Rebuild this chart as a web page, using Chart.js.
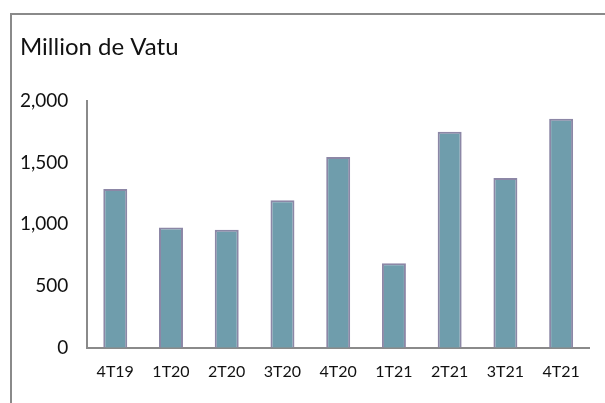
<!DOCTYPE html>
<html>
<head>
<meta charset="utf-8">
<script src="https://cdn.jsdelivr.net/npm/chart.js@4/dist/chart.umd.min.js"></script>
<style>
	html, body { margin: 0; padding: 0; background: #fff; }
	#wrap { position: relative; width: 605px; height: 403px; overflow: hidden; }
	#frame { position: absolute; left: 10px; top: 13px; width: 700px; height: 500px;
		border-top: 2px solid #8a8a8a; border-left: 2px solid #8a8a8a; }
	#graph1 { position: absolute; left: 0; top: 0; }
</style>
</head>
<body>
<div id="wrap">
	<div id="frame"></div>
	<canvas id="graph1" width="605" height="403"></canvas>
</div>
<script>
// quarters and values (million de Vatu)
var quarters = ["4T19", "1T20", "2T20", "3T20", "4T20", "1T21", "2T21", "3T21", "4T21"];
var values = [1285, 975, 955, 1195, 1545, 685, 1750, 1375, 1855];
var yTicks = [0, 500, 1000, 1500, 2000];

var font = "Lato, 'Open Sans', sans-serif";
var yPad = 19;

var ctx = document.getElementById('graph1').getContext('2d');
var chart = new Chart(ctx, {
	type: 'bar',
	data: {
		labels: quarters,
		datasets: [{
			label: "Million de Vatu",
			data: values,
			backgroundColor: '#6f9dac',
			borderColor: '#8c87a6',
			borderWidth: 2,
			barPercentage: 0.43,
			categoryPercentage: 1
		}]
	},
	options: {
		responsive: false,
		animation: false,
		layout: { padding: { left: 20, right: 16, top: 33, bottom: 8 } },
		plugins: {
			legend: { display: false },
			tooltip: { enabled: false },
			title: {
				display: true,
				text: "Million de Vatu",
				align: 'start',
				color: '#111',
				font: { family: font, size: 24, weight: 'normal' },
				padding: { top: 0, bottom: 39 }
			}
		},
		scales: {
			x: {
				grid: { display: false, drawTicks: false },
				border: { display: true, color: '#8a8a8a', width: 2 },
				ticks: { color: '#111', font: { family: font, size: 16 }, padding: 14, maxRotation: 0 }
			},
			y: {
				min: 0,
				max: 2000,
				afterBuildTicks: function(axis) {
					axis.ticks = yTicks.map(function(v) { return { value: v }; });
				},
				// chart.js counts the tick padding twice in the width
				afterFit: function(axis) { axis.width -= yPad; },
				grid: { display: false, drawTicks: false },
				border: { display: true, color: '#8a8a8a', width: 2 },
				ticks: {
					color: '#111',
					font: { family: font, size: 19 },
					padding: yPad,
					callback: function(v) { return v.toLocaleString('en-US'); }
				}
			}
		}
	}
});
</script>
</body>
</html>
